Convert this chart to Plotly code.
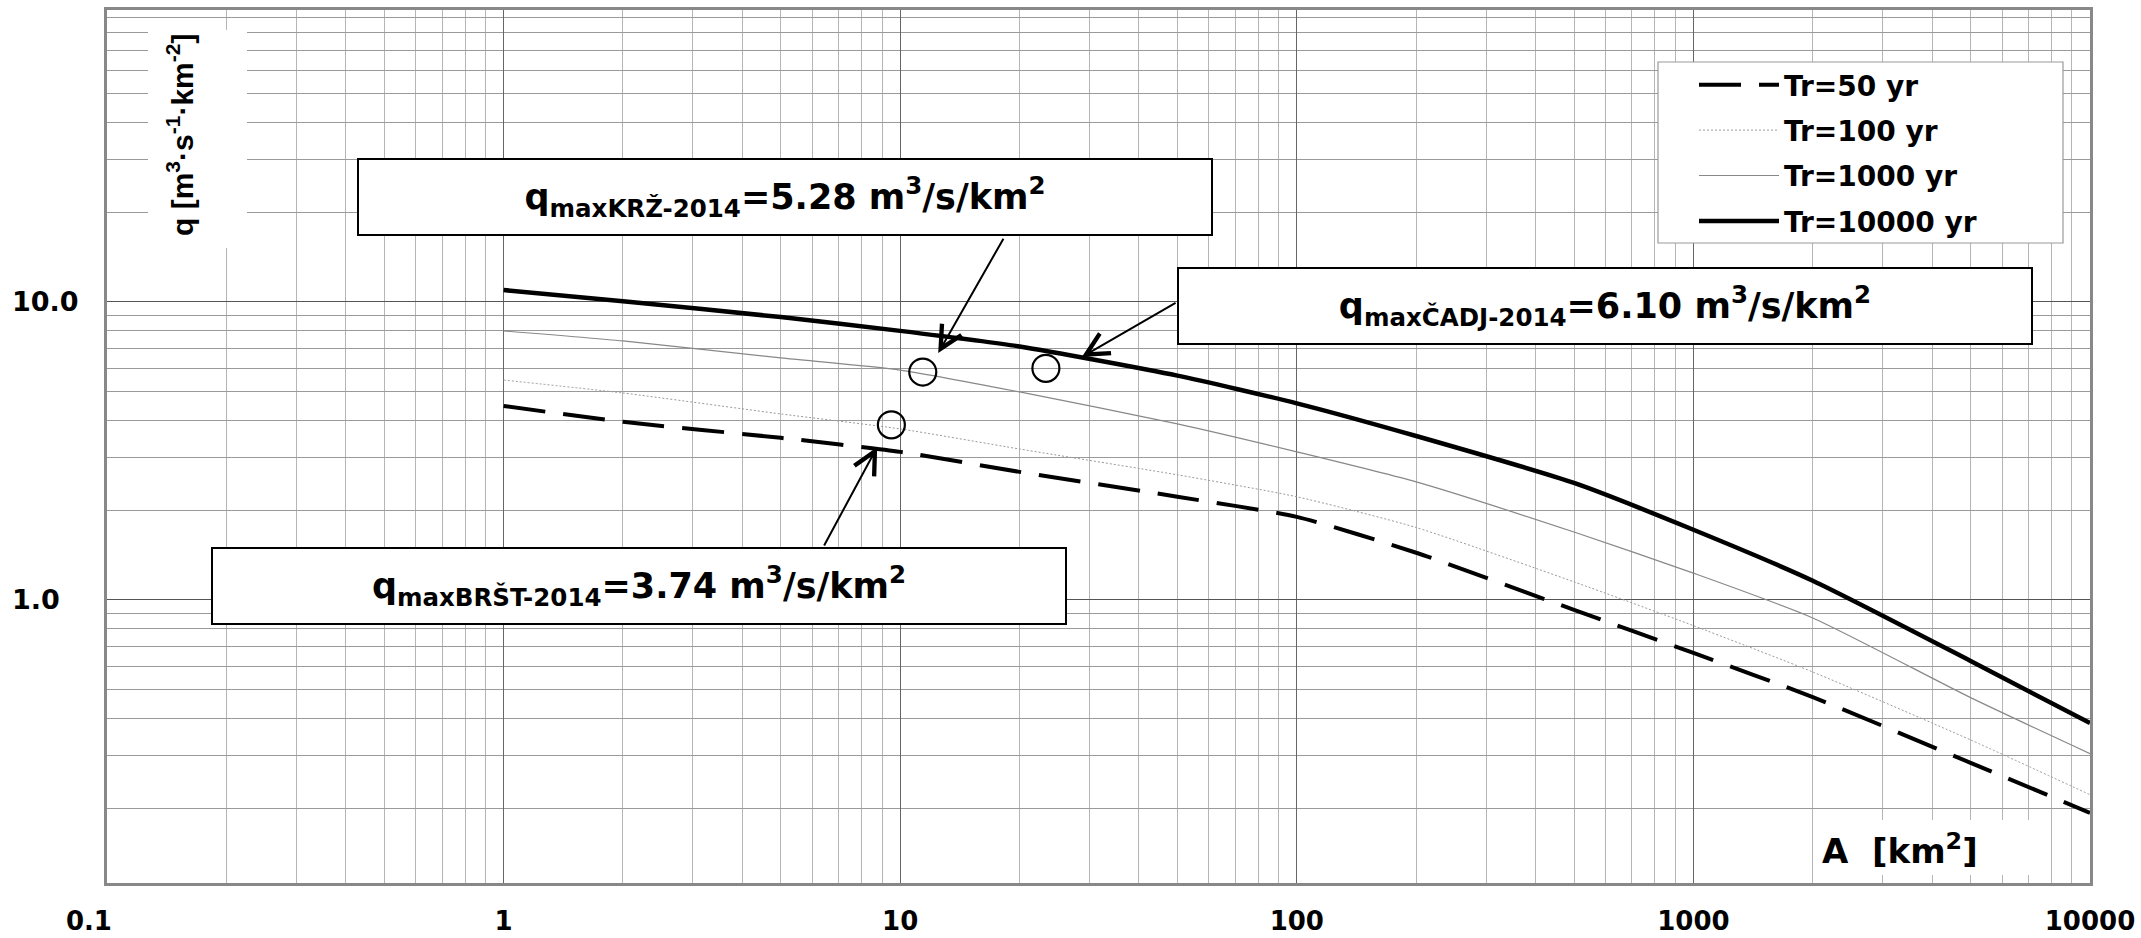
import math
import plotly.graph_objects as go

# ---------------- data ----------------
area_km2 = [1, 2, 5, 10, 20, 50, 100, 200, 500, 1000, 2000, 5000, 10000]
q_tr50 = [4.48, 3.96, 3.50, 3.14, 2.69, 2.22, 1.90, 1.44, 0.926, 0.664, 0.472, 0.284, 0.193]
q_tr100 = [5.47, 4.95, 4.21, 3.75, 3.21, 2.63, 2.22, 1.75, 1.15, 0.82, 0.573, 0.339, 0.222]
q_tr1000 = [8.0, 7.4, 6.49, 5.91, 4.99, 3.90, 3.14, 2.49, 1.69, 1.23, 0.87, 0.47, 0.305]
q_tr10000 = [10.97, 10.05, 8.9, 8.0, 7.09, 5.66, 4.57, 3.55, 2.47, 1.72, 1.16, 0.624, 0.386]
series_names = ["Tr=50 yr", "Tr=100 yr", "Tr=1000 yr", "Tr=10000 yr"]

event_codes = ["KRŽ", "ČADJ", "BRŠT"]
event_area = [11.4, 23.3, 9.5]
event_q = [5.82, 5.99, 3.87]
event_label_q = ["5.28", "6.10", "3.74"]
# arrow head / tail positions (A, q) for each event label
arrow_head_A = [12.47, 28.7, 8.75]
arrow_head_q = [6.74, 6.54, 3.26]
arrow_tail_A = [18.3, 49.9, 6.4]
arrow_tail_q = [16.5, 10.0, 1.506]

x_tick_vals = [0.1, 1, 10, 100, 1000, 10000]
x_tick_text = ["0.1\u00a0\u00a0\u00a0\u00a0", "1", "10", "100", "1000", "10000"]
y_tick_vals = [1, 10]
y_tick_text = ["1.0\u00a0\u00a0", "10.0"]

# ---------------- layout helpers ----------------
W, H = 2141, 938
ML, MR, MT, MB = 107, 51, 10, 55
PW, PH = W - ML - MR, H - MT - MB


def px(x):
    return (x - ML) / PW


def py(y):
    return (H - MB - y) / PH


FONT = "DejaVu Sans"
styles = [
    dict(color="black", width=4, dash="42px,18px"),
    dict(color="#9a9a9a", width=1, dash="2px,2px"),
    dict(color="#888888", width=1.2),
    dict(color="black", width=4.5),
]

fig = go.Figure()
for name, ys, st in zip(series_names, [q_tr50, q_tr100, q_tr1000, q_tr10000], styles):
    fig.add_trace(go.Scatter(
        x=area_km2, y=ys, mode="lines", name=name, legendgroup=name,
        line=dict(shape="spline", smoothing=0.6, **st),
    ))

fig.add_trace(go.Scatter(
    x=event_area, y=event_q, mode="markers", showlegend=False,
    marker=dict(symbol="circle-open", size=27, color="black", line=dict(width=2.2, color="black")),
))

minor_x = [m * 10 ** e for e in range(-1, 4) for m in range(2, 10)]
minor_y = [m * 10 ** e for e in range(-1, 2) for m in range(2, 10)]

fig.update_xaxes(
    type="log", range=[-1, 4], tickmode="array", tickvals=x_tick_vals, ticktext=x_tick_text,
    showgrid=True, gridcolor="#666666", gridwidth=1, automargin=False,
    minor=dict(tickmode="array", tickvals=minor_x, showgrid=True, gridcolor="#b5b5b5", gridwidth=1, ticks=""),
    showline=True, linecolor="#888888", linewidth=3, mirror=True, ticks="",
    ticklabelstandoff=13, zeroline=False,
    tickfont=dict(family=FONT, size=26, weight="bold", color="black"),
)
fig.update_yaxes(
    type="log", range=[-0.95, 1.98], tickmode="array", tickvals=y_tick_vals, ticktext=y_tick_text,
    showgrid=True, gridcolor="#555555", gridwidth=1, automargin=False,
    minor=dict(tickmode="array", tickvals=minor_y, showgrid=True, gridcolor="#9a9a9a", gridwidth=1, ticks=""),
    showline=True, linecolor="#888888", linewidth=3, mirror=True, ticks="",
    ticklabelstandoff=20, zeroline=False,
    tickfont=dict(family=FONT, size=27, weight="bold", color="black"),
)

annotations = []
box_centers = [(785, 197), (1605, 306), (639, 586)]
for code, lab, (cx, cy) in zip(event_codes, event_label_q, box_centers):
    annotations.append(dict(
        xref="paper", yref="paper", x=px(cx), y=py(cy), xanchor="center", yanchor="middle",
        text=f"q<sub>max{code}-2014</sub>={lab} m<sup>3</sup>/s/km<sup>2</sup>",
        showarrow=False, bgcolor="white", bordercolor="black", borderwidth=2, borderpad=0,
        width=852, height=74, align="center", valign="middle",
        font=dict(family=FONT, size=35, weight="bold", color="black"),
    ))
for hx, hy, tx, ty in zip(arrow_head_A, arrow_head_q, arrow_tail_A, arrow_tail_q):
    annotations.append(dict(
        xref="x", yref="y", axref="x", ayref="y",
        x=math.log10(hx), y=math.log10(hy), ax=math.log10(tx), ay=math.log10(ty),
        text="", showarrow=True, arrowhead=5, arrowsize=2.2, arrowwidth=2, arrowcolor="black",
    ))

# axis titles
annotations.append(dict(
    xref="paper", yref="paper", x=px(180), y=py(135), xanchor="center", yanchor="middle",
    text="q [m<sup>3</sup>·s<sup>-1</sup>·km<sup>-2</sup>]", textangle=-90, showarrow=False,
    font=dict(family="Liberation Sans", size=30, weight="bold", color="black"),
))
annotations.append(dict(
    xref="paper", yref="paper", x=px(1900), y=py(849), xanchor="center", yanchor="middle",
    text="A\u00a0\u00a0[km<sup>2</sup>]", showarrow=False,
    font=dict(family=FONT, size=34, weight="bold", color="black"),
))

shapes = [
    dict(type="rect", xref="paper", yref="paper", x0=px(148), x1=px(247), y0=py(248), y1=py(30),
         fillcolor="white", line=dict(width=0), layer="above"),
    dict(type="rect", xref="paper", yref="paper", x0=px(1815), x1=px(2045), y0=py(875), y1=py(820),
         fillcolor="white", line=dict(width=0), layer="above"),
    # legend frame
    dict(type="rect", xref="paper", yref="paper", x0=px(1658), x1=px(2063), y0=py(243), y1=py(62),
         fillcolor="white", line=dict(width=1.2, color="#999999"), layer="above"),
]

fig.update_layout(
    width=W, height=H, margin=dict(l=ML, r=MR, t=MT, b=MB, autoexpand=False),
    paper_bgcolor="white", plot_bgcolor="white",
    annotations=annotations, shapes=shapes,
    legend=dict(
        x=px(1694), y=py(60), xanchor="left", yanchor="top",
        bgcolor="rgba(0,0,0,0)", borderwidth=0,
        font=dict(family=FONT, size=28, weight="bold", color="black"),
        itemwidth=80, tracegroupgap=6, traceorder="grouped",
    ),
)

fig.write_html(
    "out.html",
    config={"displayModeBar": False},
    post_script="document.body.style.margin='0';document.body.style.overflow='hidden';",
)
